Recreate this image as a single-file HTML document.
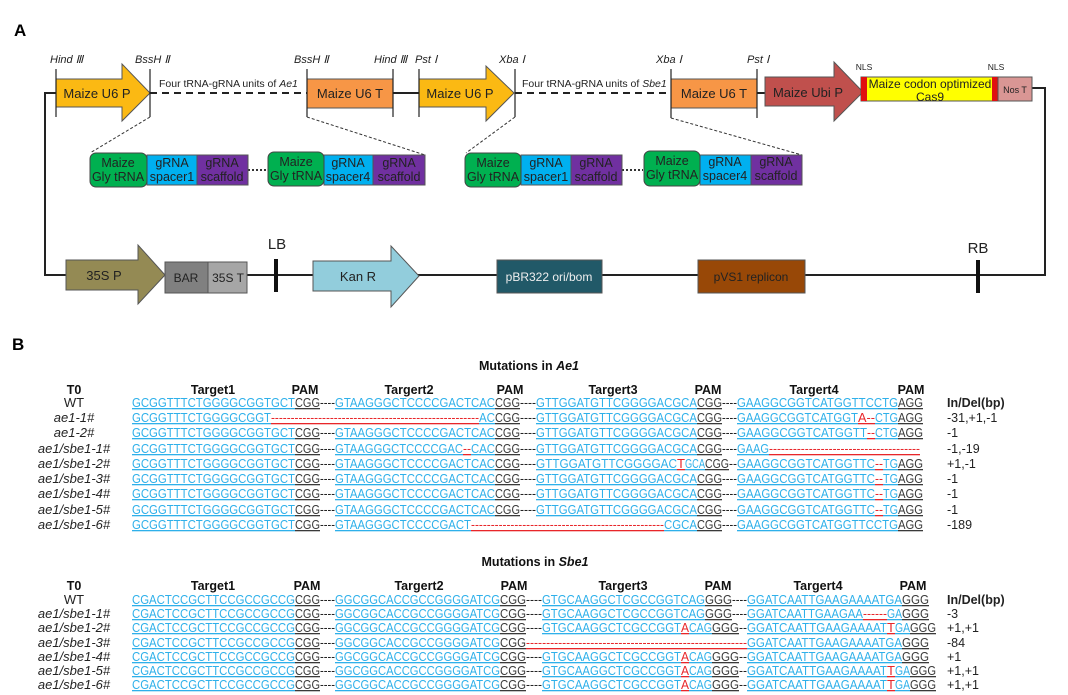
<!DOCTYPE html>
<html><head><meta charset="utf-8"><style>
html,body{margin:0;padding:0;background:#fff}
svg{display:block;font-family:"Liberation Sans",Arial,sans-serif}
.b{fill:#2eb0ea;text-decoration:underline}
.g{fill:#3a3a3a;text-decoration:underline}
.r{fill:#e8262a;text-decoration:underline}
.k{fill:#222}
.s text{font-size:13px}
.lbl{font-style:italic;font-size:12px;fill:#222}
.h{font-weight:bold;font-size:12.5px;fill:#111}
</style></head><body>
<svg width="1068" height="695" viewBox="0 0 1068 695" xmlns="http://www.w3.org/2000/svg">
<text x="14" y="36" font-size="17" font-weight="bold">A</text>
<g stroke="#222" stroke-width="2" fill="none">
<polyline points="56,93 45,93 45,275 1045,275 1045,88 1032,88"/>
<line x1="393" y1="93" x2="419" y2="93"/>
<line x1="757" y1="93" x2="765" y2="93"/>
</g>
<g stroke="#222" stroke-width="2" stroke-dasharray="7,5">
<line x1="150" y1="93" x2="307" y2="93"/>
<line x1="515" y1="93" x2="671" y2="93"/>
</g>
<polygon points="56,79 122,79 122,64 150,93 122,121 122,107 56,107" fill="#fbb913" stroke="#555" stroke-width="1"/>
<text x="97" y="98" font-size="13" text-anchor="middle" fill="#222">Maize U6 P</text>
<rect x="307" y="79" width="86" height="29" fill="#f79646" stroke="#555"/>
<text x="350" y="98" font-size="13" text-anchor="middle" fill="#222">Maize U6 T</text>
<polygon points="419,79 486,79 486,66 514,93 486,121 486,107 419,107" fill="#fbb913" stroke="#555"/>
<text x="460" y="98" font-size="13" text-anchor="middle" fill="#222">Maize U6 P</text>
<rect x="671" y="79" width="86" height="29" fill="#f79646" stroke="#555"/>
<text x="714" y="98" font-size="13" text-anchor="middle" fill="#222">Maize U6 T</text>
<polygon points="765,77 834,77 834,62 863,92 834,121 834,106 765,106" fill="#c0504d" stroke="#555"/>
<text x="808" y="97" font-size="13" text-anchor="middle" fill="#222">Maize Ubi P</text>
<rect x="861" y="77" width="137" height="24" fill="#ffff00" stroke="#555"/>
<rect x="861" y="77" width="6" height="24" fill="#e01010"/>
<rect x="992" y="77" width="6" height="24" fill="#e01010"/>
<text x="930" y="88" font-size="12" text-anchor="middle" fill="#222">Maize codon optimized</text>
<text x="930" y="101" font-size="12" text-anchor="middle" fill="#222">Cas9</text>
<rect x="998" y="77" width="34" height="24" fill="#d99694" stroke="#555"/>
<text x="1015" y="93" font-size="9" text-anchor="middle" fill="#222">Nos T</text>
<text x="864" y="70" font-size="8.5" text-anchor="middle" fill="#222">NLS</text>
<text x="996" y="70" font-size="8.5" text-anchor="middle" fill="#222">NLS</text>
<g stroke="#222" stroke-width="1.2">
<line x1="56" y1="69" x2="56" y2="117"/><line x1="150" y1="69" x2="150" y2="117"/>
<line x1="307" y1="69" x2="307" y2="117"/><line x1="393" y1="69" x2="393" y2="117"/>
<line x1="419" y1="69" x2="419" y2="117"/><line x1="515" y1="69" x2="515" y2="117"/>
<line x1="671" y1="69" x2="671" y2="118"/><line x1="757" y1="69" x2="757" y2="118"/>
</g>
<g class="lbl">
<text x="50" y="63" font-size="11">Hind Ⅲ</text>
<text x="135" y="63" font-size="11">BssH Ⅱ</text>
<text x="294" y="63" font-size="11">BssH Ⅱ</text>
<text x="374" y="63" font-size="11">Hind Ⅲ</text>
<text x="415" y="63" font-size="11">Pst Ⅰ</text>
<text x="499" y="63" font-size="11">Xba Ⅰ</text>
<text x="656" y="63" font-size="11">Xba Ⅰ</text>
<text x="747" y="63" font-size="11">Pst Ⅰ</text>
</g>
<text x="159" y="87" font-size="10.5" fill="#222">Four tRNA-gRNA units of <tspan font-style="italic">Ae1</tspan></text>
<text x="522" y="87" font-size="10.5" fill="#222">Four tRNA-gRNA units of <tspan font-style="italic">Sbe1</tspan></text>
<g stroke="#333" stroke-width="1" stroke-dasharray="3,2">
<line x1="150" y1="117" x2="90" y2="153"/><line x1="307" y1="117" x2="425" y2="155"/>
<line x1="515" y1="117" x2="466" y2="153"/><line x1="671" y1="118" x2="802" y2="155"/>
</g>
<g stroke="#333" stroke-width="2" stroke-dasharray="2,2">
<line x1="248" y1="170" x2="268" y2="170"/><line x1="622" y1="170" x2="643" y2="170"/>
</g>
<g font-size="12.5" text-anchor="middle" fill="#222">
<g>
<rect x="197" y="155" width="51" height="30" fill="#7030a0" stroke="#555"/>
<rect x="147" y="155" width="50" height="30" fill="#00b0f0" stroke="#555"/>
<rect x="90" y="153" width="57" height="34" rx="6" fill="#00b050" stroke="#444"/>
<text x="118" y="167">Maize</text><text x="118" y="181">Gly tRNA</text>
<text x="172" y="167">gRNA</text><text x="172" y="181">spacer1</text>
<text x="222" y="167">gRNA</text><text x="222" y="181">scaffold</text>
</g>
<g>
<rect x="373" y="155" width="52" height="30" fill="#7030a0" stroke="#555"/>
<rect x="324" y="155" width="49" height="30" fill="#00b0f0" stroke="#555"/>
<rect x="268" y="152" width="56" height="34" rx="6" fill="#00b050" stroke="#444"/>
<text x="296" y="166">Maize</text><text x="296" y="180">Gly tRNA</text>
<text x="348" y="167">gRNA</text><text x="348" y="181">spacer4</text>
<text x="399" y="167">gRNA</text><text x="399" y="181">scaffold</text>
</g>
<g>
<rect x="571" y="155" width="51" height="30" fill="#7030a0" stroke="#555"/>
<rect x="521" y="155" width="50" height="30" fill="#00b0f0" stroke="#555"/>
<rect x="465" y="153" width="56" height="34" rx="6" fill="#00b050" stroke="#444"/>
<text x="493" y="167">Maize</text><text x="493" y="181">Gly tRNA</text>
<text x="546" y="167">gRNA</text><text x="546" y="181">spacer1</text>
<text x="596" y="167">gRNA</text><text x="596" y="181">scaffold</text>
</g>
<g>
<rect x="751" y="155" width="51" height="30" fill="#7030a0" stroke="#555"/>
<rect x="700" y="155" width="51" height="30" fill="#00b0f0" stroke="#555"/>
<rect x="644" y="151" width="56" height="35" rx="6" fill="#00b050" stroke="#444"/>
<text x="672" y="165">Maize</text><text x="672" y="179">Gly tRNA</text>
<text x="725" y="166">gRNA</text><text x="725" y="180">spacer4</text>
<text x="776" y="166">gRNA</text><text x="776" y="180">scaffold</text>
</g>
</g>
<polygon points="66,260 138,260 138,245 165,275 138,304 138,290 66,290" fill="#948a54" stroke="#555"/>
<text x="104" y="280" font-size="13" text-anchor="middle" fill="#222">35S P</text>
<rect x="165" y="262" width="43" height="31" fill="#808080" stroke="#555"/>
<text x="186" y="282" font-size="12" text-anchor="middle" fill="#222">BAR</text>
<rect x="208" y="262" width="39" height="31" fill="#a6a6a6" stroke="#555"/>
<text x="228" y="282" font-size="12" text-anchor="middle" fill="#222">35S T</text>
<line x1="276" y1="259" x2="276" y2="292" stroke="#111" stroke-width="4"/>
<text x="277" y="249" font-size="15" text-anchor="middle" fill="#222">LB</text>
<polygon points="313,261 391,261 391,246 419,276 391,307 391,291 313,291" fill="#92cddc" stroke="#555"/>
<text x="358" y="281" font-size="13" text-anchor="middle" fill="#222">Kan R</text>
<rect x="497" y="260" width="105" height="33" fill="#215968" stroke="#555"/>
<text x="549" y="281" font-size="12" text-anchor="middle" fill="#eee">pBR322 ori/bom</text>
<rect x="698" y="260" width="107" height="33" fill="#984807" stroke="#555"/>
<text x="751" y="281" font-size="12" text-anchor="middle" fill="#222">pVS1 replicon</text>
<line x1="978" y1="260" x2="978" y2="293" stroke="#111" stroke-width="4"/>
<text x="978" y="253" font-size="15" text-anchor="middle" fill="#222">RB</text>

<text x="12" y="350" font-size="17" font-weight="bold">B</text>
<text x="529" y="370" class="h" text-anchor="middle">Mutations in <tspan font-style="italic">Ae1</tspan></text>
<g class="h" text-anchor="middle">
<text x="74" y="394">T0</text><text x="213" y="394">Target1</text><text x="305" y="394">PAM</text>
<text x="409" y="394">Targert2</text><text x="510" y="394">PAM</text><text x="613" y="394">Targert3</text>
<text x="708" y="394">PAM</text><text x="814" y="394">Targert4</text><text x="911" y="394">PAM</text>
</g>
<g font-size="13" text-anchor="middle" fill="#222">
<text x="74" y="407">WT</text>
<text x="74" y="422" font-style="italic">ae1-1#</text>
<text x="74" y="437" font-style="italic">ae1-2#</text>
<text x="74" y="453" font-style="italic">ae1/sbe1-1#</text>
<text x="74" y="468" font-style="italic">ae1/sbe1-2#</text>
<text x="74" y="483" font-style="italic">ae1/sbe1-3#</text>
<text x="74" y="498" font-style="italic">ae1/sbe1-4#</text>
<text x="74" y="514" font-style="italic">ae1/sbe1-5#</text>
<text x="74" y="529" font-style="italic">ae1/sbe1-6#</text>
</g>
<g font-size="12.5" fill="#222">
<text x="947" y="407" font-weight="bold">In/Del(bp)</text>
<text x="947" y="422">-31,+1,-1</text><text x="947" y="437">-1</text><text x="947" y="453">-1,-19</text>
<text x="947" y="468">+1,-1</text><text x="947" y="483">-1</text><text x="947" y="498">-1</text>
<text x="947" y="514">-1</text><text x="947" y="529">-189</text>
</g>
<g class="s">
<text class="b" x="132" y="407" textLength="163" lengthAdjust="spacingAndGlyphs">GCGGTTTCTGGGGCGGTGCT</text><text class="g" x="295" y="407" textLength="25" lengthAdjust="spacingAndGlyphs">CGG</text><text class="k" x="320" y="407" textLength="15" lengthAdjust="spacingAndGlyphs">----</text>
<text class="b" x="335" y="407" textLength="160" lengthAdjust="spacingAndGlyphs">GTAAGGGCTCCCCGACTCAC</text><text class="g" x="495" y="407" textLength="25" lengthAdjust="spacingAndGlyphs">CGG</text><text class="k" x="520" y="407" textLength="16" lengthAdjust="spacingAndGlyphs">----</text>
<text class="b" x="536" y="407" textLength="161" lengthAdjust="spacingAndGlyphs">GTTGGATGTTCGGGGACGCA</text><text class="g" x="697" y="407" textLength="25" lengthAdjust="spacingAndGlyphs">CGG</text><text class="k" x="722" y="407" textLength="15" lengthAdjust="spacingAndGlyphs">----</text>
<text class="b" x="737" y="407" textLength="161" lengthAdjust="spacingAndGlyphs">GAAGGCGGTCATGGTTCCTG</text><text class="g" x="898" y="407" textLength="25" lengthAdjust="spacingAndGlyphs">AGG</text>

<text class="b" x="132" y="422" textLength="139" lengthAdjust="spacingAndGlyphs">GCGGTTTCTGGGGCGGT</text><text class="r" x="271" y="422" textLength="208" lengthAdjust="spacingAndGlyphs">-----------------------------------------------------</text><text class="b" x="479" y="422" textLength="16" lengthAdjust="spacingAndGlyphs">AC</text><text class="g" x="495" y="422" textLength="25" lengthAdjust="spacingAndGlyphs">CGG</text><text class="k" x="520" y="422" textLength="16" lengthAdjust="spacingAndGlyphs">----</text>
<text class="b" x="536" y="422" textLength="161" lengthAdjust="spacingAndGlyphs">GTTGGATGTTCGGGGACGCA</text><text class="g" x="697" y="422" textLength="25" lengthAdjust="spacingAndGlyphs">CGG</text><text class="k" x="722" y="422" textLength="15" lengthAdjust="spacingAndGlyphs">----</text>
<text class="b" x="737" y="422" textLength="121" lengthAdjust="spacingAndGlyphs">GAAGGCGGTCATGGT</text><text class="r" x="858" y="422" textLength="17" lengthAdjust="spacingAndGlyphs">A--</text><text class="b" x="875" y="422" textLength="23" lengthAdjust="spacingAndGlyphs">CTG</text><text class="g" x="898" y="422" textLength="25" lengthAdjust="spacingAndGlyphs">AGG</text>

<text class="b" x="132" y="437" textLength="163" lengthAdjust="spacingAndGlyphs">GCGGTTTCTGGGGCGGTGCT</text><text class="g" x="295" y="437" textLength="25" lengthAdjust="spacingAndGlyphs">CGG</text><text class="k" x="320" y="437" textLength="15" lengthAdjust="spacingAndGlyphs">----</text>
<text class="b" x="335" y="437" textLength="160" lengthAdjust="spacingAndGlyphs">GTAAGGGCTCCCCGACTCAC</text><text class="g" x="495" y="437" textLength="25" lengthAdjust="spacingAndGlyphs">CGG</text><text class="k" x="520" y="437" textLength="16" lengthAdjust="spacingAndGlyphs">----</text>
<text class="b" x="536" y="437" textLength="161" lengthAdjust="spacingAndGlyphs">GTTGGATGTTCGGGGACGCA</text><text class="g" x="697" y="437" textLength="25" lengthAdjust="spacingAndGlyphs">CGG</text><text class="k" x="722" y="437" textLength="15" lengthAdjust="spacingAndGlyphs">----</text>
<text class="b" x="737" y="437" textLength="130" lengthAdjust="spacingAndGlyphs">GAAGGCGGTCATGGTT</text><text class="r" x="867" y="437" textLength="8" lengthAdjust="spacingAndGlyphs">--</text><text class="b" x="875" y="437" textLength="23" lengthAdjust="spacingAndGlyphs">CTG</text><text class="g" x="898" y="437" textLength="25" lengthAdjust="spacingAndGlyphs">AGG</text>

<text class="b" x="132" y="453" textLength="163" lengthAdjust="spacingAndGlyphs">GCGGTTTCTGGGGCGGTGCT</text><text class="g" x="295" y="453" textLength="25" lengthAdjust="spacingAndGlyphs">CGG</text><text class="k" x="320" y="453" textLength="15" lengthAdjust="spacingAndGlyphs">----</text>
<text class="b" x="335" y="453" textLength="128" lengthAdjust="spacingAndGlyphs">GTAAGGGCTCCCCGAC</text><text class="r" x="463" y="453" textLength="8" lengthAdjust="spacingAndGlyphs">--</text><text class="b" x="471" y="453" textLength="24" lengthAdjust="spacingAndGlyphs">CAC</text><text class="g" x="495" y="453" textLength="25" lengthAdjust="spacingAndGlyphs">CGG</text><text class="k" x="520" y="453" textLength="16" lengthAdjust="spacingAndGlyphs">----</text>
<text class="b" x="536" y="453" textLength="161" lengthAdjust="spacingAndGlyphs">GTTGGATGTTCGGGGACGCA</text><text class="g" x="697" y="453" textLength="25" lengthAdjust="spacingAndGlyphs">CGG</text><text class="k" x="722" y="453" textLength="15" lengthAdjust="spacingAndGlyphs">----</text>
<text class="b" x="737" y="453" textLength="32" lengthAdjust="spacingAndGlyphs">GAAG</text><text class="r" x="769" y="453" textLength="151" lengthAdjust="spacingAndGlyphs">--------------------------------------</text>

<text class="b" x="132" y="468" textLength="163" lengthAdjust="spacingAndGlyphs">GCGGTTTCTGGGGCGGTGCT</text><text class="g" x="295" y="468" textLength="25" lengthAdjust="spacingAndGlyphs">CGG</text><text class="k" x="320" y="468" textLength="15" lengthAdjust="spacingAndGlyphs">----</text>
<text class="b" x="335" y="468" textLength="160" lengthAdjust="spacingAndGlyphs">GTAAGGGCTCCCCGACTCAC</text><text class="g" x="495" y="468" textLength="25" lengthAdjust="spacingAndGlyphs">CGG</text><text class="k" x="520" y="468" textLength="16" lengthAdjust="spacingAndGlyphs">----</text>
<text class="b" x="536" y="468" textLength="141" lengthAdjust="spacingAndGlyphs">GTTGGATGTTCGGGGAC</text><text class="r" x="677" y="468" textLength="8" lengthAdjust="spacingAndGlyphs">T</text><text class="b" x="685" y="468" textLength="20" lengthAdjust="spacingAndGlyphs">GCA</text><text class="g" x="705" y="468" textLength="24" lengthAdjust="spacingAndGlyphs">CGG</text><text class="k" x="729" y="468" textLength="8" lengthAdjust="spacingAndGlyphs">--</text>
<text class="b" x="737" y="468" textLength="138" lengthAdjust="spacingAndGlyphs">GAAGGCGGTCATGGTTC</text><text class="r" x="875" y="468" textLength="8" lengthAdjust="spacingAndGlyphs">--</text><text class="b" x="883" y="468" textLength="15" lengthAdjust="spacingAndGlyphs">TG</text><text class="g" x="898" y="468" textLength="25" lengthAdjust="spacingAndGlyphs">AGG</text>

<text class="b" x="132" y="483" textLength="163" lengthAdjust="spacingAndGlyphs">GCGGTTTCTGGGGCGGTGCT</text><text class="g" x="295" y="483" textLength="25" lengthAdjust="spacingAndGlyphs">CGG</text><text class="k" x="320" y="483" textLength="15" lengthAdjust="spacingAndGlyphs">----</text>
<text class="b" x="335" y="483" textLength="160" lengthAdjust="spacingAndGlyphs">GTAAGGGCTCCCCGACTCAC</text><text class="g" x="495" y="483" textLength="25" lengthAdjust="spacingAndGlyphs">CGG</text><text class="k" x="520" y="483" textLength="16" lengthAdjust="spacingAndGlyphs">----</text>
<text class="b" x="536" y="483" textLength="161" lengthAdjust="spacingAndGlyphs">GTTGGATGTTCGGGGACGCA</text><text class="g" x="697" y="483" textLength="25" lengthAdjust="spacingAndGlyphs">CGG</text><text class="k" x="722" y="483" textLength="15" lengthAdjust="spacingAndGlyphs">----</text>
<text class="b" x="737" y="483" textLength="138" lengthAdjust="spacingAndGlyphs">GAAGGCGGTCATGGTTC</text><text class="r" x="875" y="483" textLength="8" lengthAdjust="spacingAndGlyphs">--</text><text class="b" x="883" y="483" textLength="15" lengthAdjust="spacingAndGlyphs">TG</text><text class="g" x="898" y="483" textLength="25" lengthAdjust="spacingAndGlyphs">AGG</text>

<text class="b" x="132" y="498" textLength="163" lengthAdjust="spacingAndGlyphs">GCGGTTTCTGGGGCGGTGCT</text><text class="g" x="295" y="498" textLength="25" lengthAdjust="spacingAndGlyphs">CGG</text><text class="k" x="320" y="498" textLength="15" lengthAdjust="spacingAndGlyphs">----</text>
<text class="b" x="335" y="498" textLength="160" lengthAdjust="spacingAndGlyphs">GTAAGGGCTCCCCGACTCAC</text><text class="g" x="495" y="498" textLength="25" lengthAdjust="spacingAndGlyphs">CGG</text><text class="k" x="520" y="498" textLength="16" lengthAdjust="spacingAndGlyphs">----</text>
<text class="b" x="536" y="498" textLength="161" lengthAdjust="spacingAndGlyphs">GTTGGATGTTCGGGGACGCA</text><text class="g" x="697" y="498" textLength="25" lengthAdjust="spacingAndGlyphs">CGG</text><text class="k" x="722" y="498" textLength="15" lengthAdjust="spacingAndGlyphs">----</text>
<text class="b" x="737" y="498" textLength="138" lengthAdjust="spacingAndGlyphs">GAAGGCGGTCATGGTTC</text><text class="r" x="875" y="498" textLength="8" lengthAdjust="spacingAndGlyphs">--</text><text class="b" x="883" y="498" textLength="15" lengthAdjust="spacingAndGlyphs">TG</text><text class="g" x="898" y="498" textLength="25" lengthAdjust="spacingAndGlyphs">AGG</text>

<text class="b" x="132" y="514" textLength="163" lengthAdjust="spacingAndGlyphs">GCGGTTTCTGGGGCGGTGCT</text><text class="g" x="295" y="514" textLength="25" lengthAdjust="spacingAndGlyphs">CGG</text><text class="k" x="320" y="514" textLength="15" lengthAdjust="spacingAndGlyphs">----</text>
<text class="b" x="335" y="514" textLength="160" lengthAdjust="spacingAndGlyphs">GTAAGGGCTCCCCGACTCAC</text><text class="g" x="495" y="514" textLength="25" lengthAdjust="spacingAndGlyphs">CGG</text><text class="k" x="520" y="514" textLength="16" lengthAdjust="spacingAndGlyphs">----</text>
<text class="b" x="536" y="514" textLength="161" lengthAdjust="spacingAndGlyphs">GTTGGATGTTCGGGGACGCA</text><text class="g" x="697" y="514" textLength="25" lengthAdjust="spacingAndGlyphs">CGG</text><text class="k" x="722" y="514" textLength="15" lengthAdjust="spacingAndGlyphs">----</text>
<text class="b" x="737" y="514" textLength="138" lengthAdjust="spacingAndGlyphs">GAAGGCGGTCATGGTTC</text><text class="r" x="875" y="514" textLength="8" lengthAdjust="spacingAndGlyphs">--</text><text class="b" x="883" y="514" textLength="15" lengthAdjust="spacingAndGlyphs">TG</text><text class="g" x="898" y="514" textLength="25" lengthAdjust="spacingAndGlyphs">AGG</text>

<text class="b" x="132" y="529" textLength="163" lengthAdjust="spacingAndGlyphs">GCGGTTTCTGGGGCGGTGCT</text><text class="g" x="295" y="529" textLength="25" lengthAdjust="spacingAndGlyphs">CGG</text><text class="k" x="320" y="529" textLength="15" lengthAdjust="spacingAndGlyphs">----</text>
<text class="b" x="335" y="529" textLength="136" lengthAdjust="spacingAndGlyphs">GTAAGGGCTCCCCGACT</text><text class="r" x="471" y="529" textLength="193" lengthAdjust="spacingAndGlyphs">-------------------------------------------------</text><text class="b" x="664" y="529" textLength="33" lengthAdjust="spacingAndGlyphs">CGCA</text><text class="g" x="697" y="529" textLength="25" lengthAdjust="spacingAndGlyphs">CGG</text><text class="k" x="722" y="529" textLength="15" lengthAdjust="spacingAndGlyphs">----</text>
<text class="b" x="737" y="529" textLength="161" lengthAdjust="spacingAndGlyphs">GAAGGCGGTCATGGTTCCTG</text><text class="g" x="898" y="529" textLength="25" lengthAdjust="spacingAndGlyphs">AGG</text>
</g>

<text x="535" y="566" class="h" text-anchor="middle">Mutations in <tspan font-style="italic">Sbe1</tspan></text>
<g class="h" text-anchor="middle">
<text x="74" y="590">T0</text><text x="213" y="590">Target1</text><text x="307" y="590">PAM</text>
<text x="419" y="590">Targert2</text><text x="514" y="590">PAM</text><text x="623" y="590">Targert3</text>
<text x="718" y="590">PAM</text><text x="818" y="590">Targert4</text><text x="913" y="590">PAM</text>
</g>
<g font-size="13" text-anchor="middle" fill="#222">
<text x="74" y="604">WT</text>
<text x="74" y="618" font-style="italic">ae1/sbe1-1#</text>
<text x="74" y="632" font-style="italic">ae1/sbe1-2#</text>
<text x="74" y="647" font-style="italic">ae1/sbe1-3#</text>
<text x="74" y="661" font-style="italic">ae1/sbe1-4#</text>
<text x="74" y="675" font-style="italic">ae1/sbe1-5#</text>
<text x="74" y="689" font-style="italic">ae1/sbe1-6#</text>
</g>
<g font-size="12.5" fill="#222">
<text x="947" y="604" font-weight="bold">In/Del(bp)</text>
<text x="947" y="618">-3</text><text x="947" y="632">+1,+1</text><text x="947" y="647">-84</text>
<text x="947" y="661">+1</text><text x="947" y="675">+1,+1</text><text x="947" y="689">+1,+1</text>
</g>
<g class="s">
<text class="b" x="132" y="604" textLength="163" lengthAdjust="spacingAndGlyphs">CGACTCCGCTTCCGCCGCCG</text><text class="g" x="295" y="604" textLength="25" lengthAdjust="spacingAndGlyphs">CGG</text><text class="k" x="320" y="604" textLength="15" lengthAdjust="spacingAndGlyphs">----</text><text class="b" x="335" y="604" textLength="165" lengthAdjust="spacingAndGlyphs">GGCGGCACCGCCGGGGATCG</text><text class="g" x="500" y="604" textLength="26" lengthAdjust="spacingAndGlyphs">CGG</text>
<text class="b" x="132" y="618" textLength="163" lengthAdjust="spacingAndGlyphs">CGACTCCGCTTCCGCCGCCG</text><text class="g" x="295" y="618" textLength="25" lengthAdjust="spacingAndGlyphs">CGG</text><text class="k" x="320" y="618" textLength="15" lengthAdjust="spacingAndGlyphs">----</text><text class="b" x="335" y="618" textLength="165" lengthAdjust="spacingAndGlyphs">GGCGGCACCGCCGGGGATCG</text><text class="g" x="500" y="618" textLength="26" lengthAdjust="spacingAndGlyphs">CGG</text>
<text class="b" x="132" y="632" textLength="163" lengthAdjust="spacingAndGlyphs">CGACTCCGCTTCCGCCGCCG</text><text class="g" x="295" y="632" textLength="25" lengthAdjust="spacingAndGlyphs">CGG</text><text class="k" x="320" y="632" textLength="15" lengthAdjust="spacingAndGlyphs">----</text><text class="b" x="335" y="632" textLength="165" lengthAdjust="spacingAndGlyphs">GGCGGCACCGCCGGGGATCG</text><text class="g" x="500" y="632" textLength="26" lengthAdjust="spacingAndGlyphs">CGG</text>
<text class="b" x="132" y="647" textLength="163" lengthAdjust="spacingAndGlyphs">CGACTCCGCTTCCGCCGCCG</text><text class="g" x="295" y="647" textLength="25" lengthAdjust="spacingAndGlyphs">CGG</text><text class="k" x="320" y="647" textLength="15" lengthAdjust="spacingAndGlyphs">----</text><text class="b" x="335" y="647" textLength="165" lengthAdjust="spacingAndGlyphs">GGCGGCACCGCCGGGGATCG</text><text class="g" x="500" y="647" textLength="26" lengthAdjust="spacingAndGlyphs">CGG</text>
<text class="b" x="132" y="661" textLength="163" lengthAdjust="spacingAndGlyphs">CGACTCCGCTTCCGCCGCCG</text><text class="g" x="295" y="661" textLength="25" lengthAdjust="spacingAndGlyphs">CGG</text><text class="k" x="320" y="661" textLength="15" lengthAdjust="spacingAndGlyphs">----</text><text class="b" x="335" y="661" textLength="165" lengthAdjust="spacingAndGlyphs">GGCGGCACCGCCGGGGATCG</text><text class="g" x="500" y="661" textLength="26" lengthAdjust="spacingAndGlyphs">CGG</text>
<text class="b" x="132" y="675" textLength="163" lengthAdjust="spacingAndGlyphs">CGACTCCGCTTCCGCCGCCG</text><text class="g" x="295" y="675" textLength="25" lengthAdjust="spacingAndGlyphs">CGG</text><text class="k" x="320" y="675" textLength="15" lengthAdjust="spacingAndGlyphs">----</text><text class="b" x="335" y="675" textLength="165" lengthAdjust="spacingAndGlyphs">GGCGGCACCGCCGGGGATCG</text><text class="g" x="500" y="675" textLength="26" lengthAdjust="spacingAndGlyphs">CGG</text>
<text class="b" x="132" y="689" textLength="163" lengthAdjust="spacingAndGlyphs">CGACTCCGCTTCCGCCGCCG</text><text class="g" x="295" y="689" textLength="25" lengthAdjust="spacingAndGlyphs">CGG</text><text class="k" x="320" y="689" textLength="15" lengthAdjust="spacingAndGlyphs">----</text><text class="b" x="335" y="689" textLength="165" lengthAdjust="spacingAndGlyphs">GGCGGCACCGCCGGGGATCG</text><text class="g" x="500" y="689" textLength="26" lengthAdjust="spacingAndGlyphs">CGG</text>

<text class="k" x="526" y="604" textLength="16" lengthAdjust="spacingAndGlyphs">----</text><text class="b" x="542" y="604" textLength="163" lengthAdjust="spacingAndGlyphs">GTGCAAGGCTCGCCGGTCAG</text><text class="g" x="705" y="604" textLength="27" lengthAdjust="spacingAndGlyphs">GGG</text><text class="k" x="732" y="604" textLength="15" lengthAdjust="spacingAndGlyphs">----</text><text class="b" x="747" y="604" textLength="155" lengthAdjust="spacingAndGlyphs">GGATCAATTGAAGAAAATGA</text><text class="g" x="902" y="604" textLength="27" lengthAdjust="spacingAndGlyphs">GGG</text>

<text class="k" x="526" y="618" textLength="16" lengthAdjust="spacingAndGlyphs">----</text><text class="b" x="542" y="618" textLength="163" lengthAdjust="spacingAndGlyphs">GTGCAAGGCTCGCCGGTCAG</text><text class="g" x="705" y="618" textLength="27" lengthAdjust="spacingAndGlyphs">GGG</text><text class="k" x="732" y="618" textLength="15" lengthAdjust="spacingAndGlyphs">----</text><text class="b" x="747" y="618" textLength="116" lengthAdjust="spacingAndGlyphs">GGATCAATTGAAGAA</text><text class="r" x="863" y="618" textLength="24" lengthAdjust="spacingAndGlyphs">------</text><text class="b" x="887" y="618" textLength="15" lengthAdjust="spacingAndGlyphs">GA</text><text class="g" x="902" y="618" textLength="27" lengthAdjust="spacingAndGlyphs">GGG</text>

<text class="k" x="526" y="632" textLength="16" lengthAdjust="spacingAndGlyphs">----</text><text class="b" x="542" y="632" textLength="139" lengthAdjust="spacingAndGlyphs">GTGCAAGGCTCGCCGGT</text><text class="r" x="681" y="632" textLength="8" lengthAdjust="spacingAndGlyphs">A</text><text class="b" x="689" y="632" textLength="23" lengthAdjust="spacingAndGlyphs">CAG</text><text class="g" x="712" y="632" textLength="27" lengthAdjust="spacingAndGlyphs">GGG</text><text class="k" x="739" y="632" textLength="8" lengthAdjust="spacingAndGlyphs">--</text><text class="b" x="747" y="632" textLength="140" lengthAdjust="spacingAndGlyphs">GGATCAATTGAAGAAAAT</text><text class="r" x="887" y="632" textLength="8" lengthAdjust="spacingAndGlyphs">T</text><text class="b" x="895" y="632" textLength="15" lengthAdjust="spacingAndGlyphs">GA</text><text class="g" x="910" y="632" textLength="26" lengthAdjust="spacingAndGlyphs">GGG</text>

<text class="r" x="526" y="647" textLength="221" lengthAdjust="spacingAndGlyphs">-------------------------------------------------------</text><text class="b" x="747" y="647" textLength="155" lengthAdjust="spacingAndGlyphs">GGATCAATTGAAGAAAATGA</text><text class="g" x="902" y="647" textLength="27" lengthAdjust="spacingAndGlyphs">GGG</text>

<text class="k" x="526" y="661" textLength="16" lengthAdjust="spacingAndGlyphs">----</text><text class="b" x="542" y="661" textLength="139" lengthAdjust="spacingAndGlyphs">GTGCAAGGCTCGCCGGT</text><text class="r" x="681" y="661" textLength="8" lengthAdjust="spacingAndGlyphs">A</text><text class="b" x="689" y="661" textLength="23" lengthAdjust="spacingAndGlyphs">CAG</text><text class="g" x="712" y="661" textLength="27" lengthAdjust="spacingAndGlyphs">GGG</text><text class="k" x="739" y="661" textLength="8" lengthAdjust="spacingAndGlyphs">--</text><text class="b" x="747" y="661" textLength="155" lengthAdjust="spacingAndGlyphs">GGATCAATTGAAGAAAATGA</text><text class="g" x="902" y="661" textLength="27" lengthAdjust="spacingAndGlyphs">GGG</text>

<text class="k" x="526" y="675" textLength="16" lengthAdjust="spacingAndGlyphs">----</text><text class="b" x="542" y="675" textLength="139" lengthAdjust="spacingAndGlyphs">GTGCAAGGCTCGCCGGT</text><text class="r" x="681" y="675" textLength="8" lengthAdjust="spacingAndGlyphs">A</text><text class="b" x="689" y="675" textLength="23" lengthAdjust="spacingAndGlyphs">CAG</text><text class="g" x="712" y="675" textLength="27" lengthAdjust="spacingAndGlyphs">GGG</text><text class="k" x="739" y="675" textLength="8" lengthAdjust="spacingAndGlyphs">--</text><text class="b" x="747" y="675" textLength="140" lengthAdjust="spacingAndGlyphs">GGATCAATTGAAGAAAAT</text><text class="r" x="887" y="675" textLength="8" lengthAdjust="spacingAndGlyphs">T</text><text class="b" x="895" y="675" textLength="15" lengthAdjust="spacingAndGlyphs">GA</text><text class="g" x="910" y="675" textLength="26" lengthAdjust="spacingAndGlyphs">GGG</text>

<text class="k" x="526" y="689" textLength="16" lengthAdjust="spacingAndGlyphs">----</text><text class="b" x="542" y="689" textLength="139" lengthAdjust="spacingAndGlyphs">GTGCAAGGCTCGCCGGT</text><text class="r" x="681" y="689" textLength="8" lengthAdjust="spacingAndGlyphs">A</text><text class="b" x="689" y="689" textLength="23" lengthAdjust="spacingAndGlyphs">CAG</text><text class="g" x="712" y="689" textLength="27" lengthAdjust="spacingAndGlyphs">GGG</text><text class="k" x="739" y="689" textLength="8" lengthAdjust="spacingAndGlyphs">--</text><text class="b" x="747" y="689" textLength="140" lengthAdjust="spacingAndGlyphs">GGATCAATTGAAGAAAAT</text><text class="r" x="887" y="689" textLength="8" lengthAdjust="spacingAndGlyphs">T</text><text class="b" x="895" y="689" textLength="15" lengthAdjust="spacingAndGlyphs">GA</text><text class="g" x="910" y="689" textLength="26" lengthAdjust="spacingAndGlyphs">GGG</text>
</g>
</svg>
</body></html>
